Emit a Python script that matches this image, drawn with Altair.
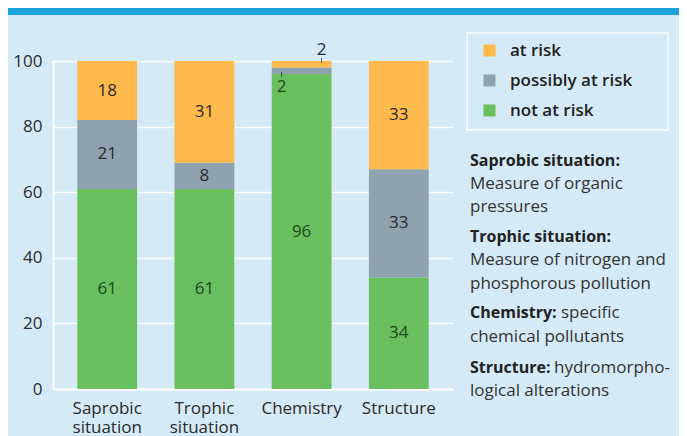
import altair as alt
import pandas as pd

categories = ["Saprobic situation", "Trophic situation", "Chemistry", "Structure"]
risk_levels = ["at risk", "possibly at risk", "not at risk"]
not_at_risk = [61, 61, 96, 34]
possibly_at_risk = [21, 8, 2, 33]
at_risk = [18, 31, 2, 33]
y_ticks = [0, 20, 40, 60, 80, 100]

desc_lines = [
    ("Saprobic situation:", ""),
    ("", "Measure of organic"),
    ("", "pressures"),
    ("Trophic situation:", ""),
    ("", "Measure of nitrogen and"),
    ("", "phosphorous pollution"),
    ("Chemistry:", "specific"),
    ("", "chemical pollutants"),
    ("Structure:", "hydromorpho-"),
    ("", "logical alterations"),
]

COLORS = ["#FDB94B", "#8FA2AF", "#6ABF5F"]
FONT = "Open Sans"
TXT = "#2b2b2b"

rows = []
for i, c in enumerate(categories):
    base = 0
    for lvl, vals, order in [("not at risk", not_at_risk, 0),
                             ("possibly at risk", possibly_at_risk, 1),
                             ("at risk", at_risk, 2)]:
        v = vals[i]
        rows.append(dict(category=c, risk=lvl, value=v, order=order,
                         y0=base, y1=base + v, mid=base + v / 2))
        base += v
df = pd.DataFrame(rows)

xenc = alt.X("category:N", sort=categories, title=None,
             scale=alt.Scale(paddingInner=0.385, paddingOuter=0.25),
             axis=alt.Axis(labelAngle=0, labelExpr="split(datum.label, ' ')",
                           labelFontSize=17, labelColor=TXT, labelFont=FONT,
                           ticks=False, domainColor="white", domainWidth=2,
                           labelPadding=11, labelLineHeight=19, labelBaseline="top"))
yscale = alt.Scale(domain=[0, 100], nice=False)

bars = alt.Chart(df).mark_bar().encode(
    x=xenc,
    y=alt.Y("y0:Q", scale=yscale, title=None,
            axis=alt.Axis(values=y_ticks, labelFontSize=17, labelColor=TXT, labelFont=FONT,
                          ticks=False, domainColor="white", domainWidth=2,
                          gridColor="white", gridWidth=1.5, gridOpacity=0.9,
                          labelPadding=11)),
    y2="y1:Q",
    color=alt.Color("risk:N", scale=alt.Scale(domain=risk_levels, range=COLORS),
                    legend=alt.Legend(orient="none", legendX=428, legendY=-19, title=None,
                                      padding=0, symbolType="square", symbolSize=144,
                                      symbolStrokeWidth=0, labelFontSize=17,
                                      labelFontWeight=600, labelColor="#222",
                                      labelFont=FONT, rowPadding=12, labelOffset=12)),
)

label_color = alt.condition(alt.datum.risk == "not at risk", alt.value("#1C471C"), alt.value(TXT))

big_labels = alt.Chart(df).transform_filter(alt.datum.value >= 5).mark_text(
    fontSize=17, font=FONT).encode(
    x=alt.X("category:N", sort=categories), y=alt.Y("mid:Q", scale=yscale),
    text="value:Q", color=label_color)

small_top = alt.Chart(df).transform_filter(
    (alt.datum.value < 5) & (alt.datum.risk == "at risk")).mark_text(
    fontSize=17, font=FONT, xOffset=20, yOffset=-11).encode(
    x=alt.X("category:N", sort=categories), y=alt.Y("y1:Q", scale=yscale),
    text="value:Q", color=label_color)
small_top_tick = alt.Chart(df).transform_filter(
    (alt.datum.value < 5) & (alt.datum.risk == "at risk")).transform_calculate(
    ta="datum.y1 - 0.6", tb="datum.y1 + 0.9").mark_rule(
    xOffset=20, color="#555", strokeWidth=1).encode(
    x=alt.X("category:N", sort=categories), y=alt.Y("ta:Q", scale=yscale), y2="tb:Q")

small_low = alt.Chart(df).transform_filter(
    (alt.datum.value < 5) & (alt.datum.risk == "possibly at risk")).mark_text(
    fontSize=17, font=FONT, xOffset=-20, yOffset=13).encode(
    x=alt.X("category:N", sort=categories), y=alt.Y("y0:Q", scale=yscale),
    text="value:Q", color=alt.value("#1C471C"))
small_low_tick = alt.Chart(df).transform_filter(
    (alt.datum.value < 5) & (alt.datum.risk == "possibly at risk")).transform_calculate(
    ta="datum.y0 + 0.6", tb="datum.y0 - 0.9").mark_rule(
    xOffset=-20, color="#2f5a2f", strokeWidth=1).encode(
    x=alt.X("category:N", sort=categories), y=alt.Y("ta:Q", scale=yscale), y2="tb:Q")

dummy = pd.DataFrame({"a": [0]})

stripe = alt.Chart(dummy).mark_rect(color="#1CA3DE").encode(
    x=alt.value(-45), x2=alt.value(626), y=alt.value(-53), y2=alt.value(-46))

legend_box = alt.Chart(dummy).mark_rect(fill=None, stroke="white", strokeWidth=1.5,
                                        strokeOpacity=0.9).encode(
    x=alt.value(414), x2=alt.value(615), y=alt.value(-28), y2=alt.value(69))

desc_layers = []
line_y = [100, 123, 146, 176, 199, 223, 252, 276, 307, 330]
bold_w = {"Chemistry:": 91, "Structure:": 84}
for (b, r), yy in zip(desc_lines, line_y):
    if b:
        desc_layers.append(alt.Chart(dummy).mark_text(
            align="left", baseline="middle", fontSize=16, font=FONT, fontWeight="bold",
            color="#222", text=b).encode(x=alt.value(417), y=alt.value(yy)))
    if r:
        xx = 417 + (bold_w.get(b, 0) if b else 0)
        desc_layers.append(alt.Chart(dummy).mark_text(
            align="left", baseline="middle", fontSize=17, font=FONT,
            color="#333", text=r).encode(x=alt.value(xx), y=alt.value(yy)))

chart = alt.layer(bars, big_labels, small_top, small_top_tick, small_low, small_low_tick,
                  stripe, legend_box, *desc_layers).properties(
    width=400, height=328,
    autosize=alt.AutoSizeParams(type="none"),
    padding={"left": 45, "top": 53, "right": 226, "bottom": 47},
    background="#D4EAF6",
).configure_view(stroke=None)

chart.save("out.html", embed_options={"renderer": "svg", "actions": False})
